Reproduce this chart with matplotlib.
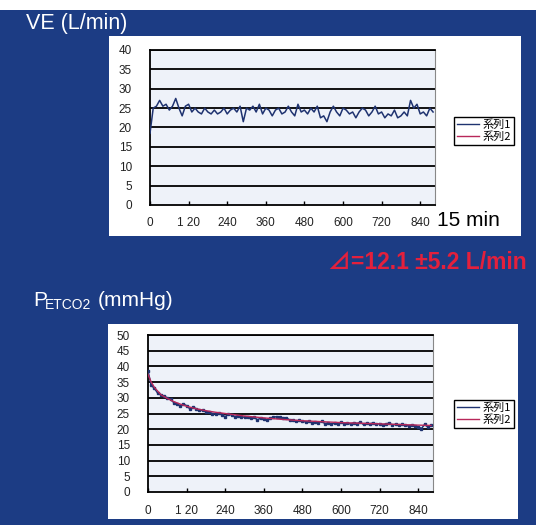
import matplotlib
matplotlib.use("Agg")
import matplotlib.pyplot as plt
from matplotlib.patches import Rectangle
from matplotlib.lines import Line2D

# ---------------- data ----------------
ve_time = list(range(0, 890, 10))
ve_s1 = [18.5, 25, 25.5, 27, 25.5, 26, 24.5, 25.5, 27.5, 25,
         23, 25.5, 26, 24, 25, 24, 23.5, 25, 24, 23.5,
         24.5, 23.5, 24, 25, 23.5, 24.5, 25, 24, 25.5, 21.5,
         25, 24.5, 25.5, 24, 26, 23.5, 25, 24.5, 23, 24.5,
         25, 23.5, 24, 25.5, 24, 23, 26, 24, 24.5, 23.5,
         25, 24, 25.5, 22.5, 23, 21.5, 24, 25.5, 24, 23,
         25, 24.5, 23.5, 24, 22.5, 24, 25, 24.5, 23, 24,
         25.5, 23.5, 24, 22.5, 23.5, 23, 24.5, 22.5, 23, 24,
         23, 27, 25, 26, 23.5, 24, 23, 25, 24]

co2_time = list(range(0, 890, 10))
co2_s1 = [38.5, 34, 33, 31.5, 31, 30.5, 30, 29.5, 28.5, 28,
          27.5, 28, 27.5, 26.5, 27, 26.5, 26, 26, 25.5, 25.5,
          25, 25, 25.2, 24.5, 24, 24.8, 24.5, 24, 24.3, 24,
          23.8, 24, 23.5, 23.8, 23, 23.5, 23.2, 23, 23.5, 23.8,
          24, 23.8, 23.5, 23.6, 23, 23, 22.5, 22.8, 22.5, 22.3,
          22.5, 22, 22.3, 22, 22.5, 21.8, 22, 21.5, 22, 21.8,
          22.2, 21.8, 22, 21.6, 22.1, 21.8, 22.2, 21.5, 21.9, 21.7,
          22, 21.5, 21.8, 21.4, 21.7, 21.9, 21.3, 21.6, 21.2, 21.5,
          21.3, 21, 21.4, 21.1, 20.8, 20.2, 21.5, 20.7, 21.2]
fit_time = [0, 10, 20, 40, 60, 80, 100, 120, 150, 180, 210, 240, 300, 360,
            420, 480, 540, 600, 660, 720, 780, 840, 880]
co2_s2 = [37.5, 35, 33.3, 31, 29.8, 28.8, 28, 27.3, 26.5, 25.9, 25.4, 25,
          24.2, 23.6, 23.1, 22.7, 22.4, 22.1, 21.9, 21.7, 21.5, 21.3, 21.2]

x_ticks = [0, 120, 240, 360, 480, 600, 720, 840]
x_ticklabels = ["0", "1 20", "240", "360", "480", "600", "720", "840"]
series_names = ["系列1", "系列2"]

# ---------------- style ----------------
W, H = 536, 525
BG = "#1c3c84"
NAVY = "#1f3370"
RED = "#b8285a"
LATIN = ["Liberation Sans", "DejaVu Sans"]
CJK = ["Noto Sans CJK JP", "DejaVu Sans"]

fig = plt.figure(figsize=(W / 100, H / 100), dpi=100)
fig.patch.set_facecolor(BG)


def px_rect(x0, y0, x1, y1):
    return [x0 / W, 1 - y1 / H, (x1 - x0) / W, (y1 - y0) / H]


# white top strip and panels
for (x0, y0, x1, y1, c) in [(0, 0, W, 10, "white"),
                            (109, 36, 521, 236, "white"),
                            (108, 324, 518, 519, "white")]:
    r = px_rect(x0, y0, x1, y1)
    fig.patches.append(Rectangle((r[0], r[1]), r[2], r[3], transform=fig.transFigure,
                                 facecolor=c, edgecolor="none", zorder=-10))


def style_axes(ax, ymax):
    ax.set_zorder(2)
    ax.set_facecolor("#eef2f9")
    ax.set_xlim(0, 886)
    ax.set_ylim(0, ymax)
    ax.set_yticks(range(0, ymax + 1, 5))
    for yv in range(5, ymax + 1, 5):
        ax.axhline(yv, color="black", lw=1.3, zorder=1)
    ax.set_xticks(x_ticks)
    ax.set_xticklabels(x_ticklabels)
    for s in ["left", "bottom"]:
        ax.spines[s].set_color("black")
        ax.spines[s].set_linewidth(1.3)
    ax.spines["top"].set_color("black")
    ax.spines["top"].set_linewidth(1.3)
    ax.spines["right"].set_color("#888888")
    ax.spines["right"].set_linewidth(0.8)
    ax.tick_params(axis="x", direction="in", length=3, width=1, pad=9,
                   labelsize=8.5, labelcolor="#222222")
    ax.tick_params(axis="y", length=0, pad=13, labelsize=8.5, labelcolor="#222222")
    for lab in ax.get_xticklabels() + ax.get_yticklabels():
        lab.set_family(LATIN)


# ---------------- top chart ----------------
ax1 = fig.add_axes(px_rect(150, 50, 435, 205))
style_axes(ax1, 40)
ax1.plot(ve_time, ve_s1, color=NAVY, lw=1.1, zorder=3)
h1 = [Line2D([], [], color=NAVY, lw=1), Line2D([], [], color=RED, lw=1)]
leg1 = fig.legend(h1, series_names, loc="upper left",
                  bbox_to_anchor=(454 / W, 1 - 117 / H), bbox_transform=fig.transFigure,
                  prop={"family": CJK, "size": 8}, frameon=True, fancybox=False,
                  edgecolor="black", framealpha=1, handlelength=2.0, handletextpad=0.3,
                  borderpad=0.25, labelspacing=0.1, borderaxespad=0)
leg1.get_frame().set_linewidth(1.0)

# ---------------- bottom chart ----------------
ax2 = fig.add_axes(px_rect(148, 335, 433, 492))
style_axes(ax2, 50)
ax2.plot(co2_time, co2_s1, color=NAVY, lw=1.1, marker="s", ms=1.6, zorder=3)
ax2.plot(fit_time, co2_s2, color=RED, lw=1.0, zorder=4)
leg2 = fig.legend(h1, series_names, loc="upper left",
                  bbox_to_anchor=(454 / W, 1 - 400 / H), bbox_transform=fig.transFigure,
                  prop={"family": CJK, "size": 8}, frameon=True, fancybox=False,
                  edgecolor="black", framealpha=1, handlelength=2.0, handletextpad=0.3,
                  borderpad=0.25, labelspacing=0.1, borderaxespad=0)
leg2.get_frame().set_linewidth(1.0)

# ---------------- texts ----------------
def ftext(x, y, s, **kw):
    fig.text(x / W, 1 - y / H, s, **kw)


ftext(26, 23, "VE (L/min)", color="white", fontsize=15.5, family=LATIN, va="center")
ftext(437, 220, "15 min", color="black", fontsize=15, family=LATIN, va="center")
ftext(527, 262, "⊿=12.1 \u00b15.2 L/min", color="#e3203c", fontsize=16.5, fontweight="bold",
      family=["Liberation Sans", "Noto Sans CJK JP", "DejaVu Sans"], va="center", ha="right")
ftext(33, 300, "P", color="white", fontsize=15, family=LATIN, va="center")
ftext(45, 305, "ETCO2", color="white", fontsize=10, family=LATIN, va="center")
ftext(98, 300, "(mmHg)", color="white", fontsize=15, family=LATIN, va="center")

fig.savefig("out.png", dpi=100, facecolor=BG)
